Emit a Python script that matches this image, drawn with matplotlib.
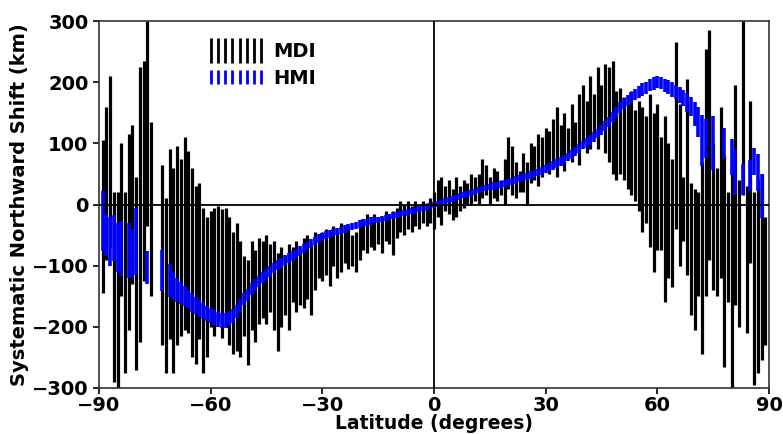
import numpy as np
import matplotlib
matplotlib.use("Agg")
import matplotlib.pyplot as plt
from matplotlib.lines import Line2D

nan = np.nan

# latitude grid, one bar per degree
lat = list(range(-89, 90))

# MDI: top and bottom of each error bar (km)
mdi_hi = [
    105, 160, 210, 20, 20, 100, 20, 115, 130, 45,        # -89 .. -80
    225, 235, 300, 135, nan, nan, 65, 10, 90, 60,       # -79 .. -70
    95, 75, 110, 87, 60, 30, 35, -5, -20, -10,          # -69 .. -60
    -5, -3, -8, -5, -20, -45, -30, -60, -85, -90,       # -59 .. -50
    -60, -75, -55, -60, -50, -65, -60, -80, -70, -85,   # -49 .. -40
    -65, -70, -60, -75, -55, -50, -65, -45, -50, -45,   # -39 .. -30
    -40, -50, -35, -45, -30, -40, -35, -50, -45, -30,   # -29 .. -20
    -25, -15, -20, -15, -20, -20, -10, -15, -10, -5,    # -19 .. -10
    5, 0, 5, -2, 5, 0, 5, 3, 10, 20,                    # -9 .. 0
    40, 45, 30, 40, 25, 45, 30, 40, 35, 50,             # 1 .. 10
    45, 50, 75, 65, 45, 60, 55, 40, 75, 110,            # 11 .. 20
    95, 70, 55, 85, 70, 100, 95, 115, 110, 125,         # 21 .. 30
    120, 140, 160, 130, 150, 125, 165, 135, 180, 195,   # 31 .. 40
    170, 210, 180, 225, 195, 230, 225, 235, 185, 190,   # 41 .. 50
    175, 165, 185, 155, 170, 160, 145, 180, 150, 165,   # 51 .. 60
    110, 145, 100, 75, 265, 165, 45, 205, 35, 25,       # 61 .. 70
    20, 70, 255, 285, 100, 60, 160, 80, 20, 60,         # 71 .. 80
    195, 40, 300, 30, 170, 20, 40, 50, -20,             # 81 .. 89
]
mdi_lo = [
    -145, -90, -70, -290, -300, -150, -275, -205, -130, -270,   # -89 .. -80
    -225, -125, -35, -150, nan, nan, -230, -275, -220, -275,    # -79 .. -70
    -230, -215, -205, -210, -250, -260, -220, -275, -250, -200, # -69 .. -60
    -215, -190, -218, -200, -230, -245, -240, -250, -215, -262, # -59 .. -50
    -205, -225, -195, -185, -195, -175, -205, -240, -200, -180, # -49 .. -40
    -205, -160, -175, -165, -170, -155, -180, -140, -120, -125, # -39 .. -30
    -115, -133, -100, -120, -110, -95, -105, -100, -110, -90,   # -29 .. -20
    -75, -80, -70, -75, -65, -80, -60, -65, -82, -55,           # -19 .. -10
    -45, -50, -40, -45, -35, -40, -30, -35, -30, -40,           # -9 .. 0
    -20, -34, -10, -15, -25, -20, -10, -5, 0, 0,                # 1 .. 10
    5, 0, 10, 15, 0, 10, 5, 15, 0, 25,                          # 11 .. 20
    15, 10, 20, 20, 0, 35, 40, 30, 45, 60,                      # 21 .. 30
    50, 60, 45, 65, 55, 80, 70, 85, 65, 100,                    # 31 .. 40
    85, 90, 110, 90, 120, 85, 70, 50, 40, 50,                   # 41 .. 50
    40, 25, 15, 5, -10, -45, -30, -70, -110, -75,               # 51 .. 60
    -75, -160, -120, -135, -40, -100, -60, -115, -180, -205,    # 61 .. 70
    -150, -245, -150, -90, -140, -150, -120, -265, -160, -300,  # 71 .. 80
    -165, -200, 15, -210, -95, -295, -275, -255, -230,          # 81 .. 89
]

# HMI: shift and half-length of each error bar (km)
hmi_shift = [
    -27, -50, -60, -55, -70, -72, nan, -75, -80, -60,           # -89 .. -80
    nan, nan, -103, nan, nan, nan, -108, nan, -125, -133,       # -79 .. -70
    -140, -145, -150, -155, -160, -165, -170, -174, -178, -182, # -69 .. -60
    -185, -188, -190, -190, -187, -182, -175, -165, -155, -148, # -59 .. -50
    -138, -132, -126, -120, -114, -109, -104, -99, -95, -91,    # -49 .. -40
    -87, -84, -80, -76, -72, -68, -64, -60, -56, -53,           # -39 .. -30
    -50, -48, -46, -44, -42, -40, -38, -36, -34, -32,           # -29 .. -20
    -30, -29, -27, -26, -25, -23, -22, -20, -18, -17,           # -19 .. -10
    -16, -14, -13, -11, -10, -8, -6, -5, -3, -1,                # -9 .. 0
    1, 3, 5, 7, 9, 11, 13, 15, 17, 19,                          # 1 .. 10
    21, 23, 25, 27, 28, 30, 31, 33, 34, 36,                     # 11 .. 20
    38, 40, 42, 44, 46, 48, 50, 52, 55, 58,                     # 21 .. 30
    61, 64, 67, 70, 74, 78, 82, 87, 92, 97,                     # 31 .. 40
    101, 106, 111, 116, 122, 128, 135, 143, 151, 158,           # 41 .. 50
    165, 170, 175, 180, 184, 188, 191, 195, 198, 200,           # 51 .. 60
    199, 195, 192, 188, 184, 179, 174, 167, 160, 148,           # 61 .. 70
    135, 105, 108, nan, 101, nan, nan, 100, nan, 78,            # 71 .. 80
    53, nan, 41, nan, 47, 71, 52, 14, nan,                      # 81 .. 89
]
hmi_err = [
    49, 35, 40, 38, 40, 45, nan, 45, 40, 55,                    # -89 .. -80
    nan, nan, 27, nan, nan, nan, 34, nan, 27, 22,               # -79 .. -70
    20, 18, 16, 15, 15, 14, 14, 13, 12, 12,                     # -69 .. -60
    12, 12, 12, 12, 12, 11, 11, 11, 10, 10,                     # -59 .. -50
    10, 10, 9, 9, 9, 9, 8, 8, 8, 8,                             # -49 .. -40
    8, 8, 8, 8, 7, 7, 7, 7, 7, 7,                               # -39 .. -30
    7, 6, 6, 6, 6, 6, 6, 6, 6, 6,                               # -29 .. -20
    6, 6, 6, 5, 5, 5, 5, 5, 5, 5,                               # -19 .. -10
    5, 5, 5, 5, 5, 5, 5, 5, 5, 5,                               # -9 .. 0
    5, 5, 5, 5, 5, 5, 5, 5, 5, 5,                               # 1 .. 10
    5, 5, 5, 5, 5, 6, 6, 6, 6, 6,                               # 11 .. 20
    6, 6, 6, 6, 6, 6, 6, 6, 6, 6,                               # 21 .. 30
    7, 7, 7, 7, 7, 7, 7, 7, 7, 7,                               # 31 .. 40
    8, 8, 8, 8, 8, 8, 8, 8, 9, 9,                               # 41 .. 50
    9, 9, 9, 9, 10, 10, 10, 10, 10, 10,                         # 51 .. 60
    10, 11, 11, 12, 12, 13, 13, 15, 15, 20,                     # 61 .. 70
    25, 42, 32, nan, 44, nan, nan, 25, nan, 29,                 # 71 .. 80
    37, nan, 25, nan, 25, 22, 30, 36, nan,                      # 81 .. 89
]

mdi_hi = np.array(mdi_hi, dtype=float)
mdi_lo = np.array(mdi_lo, dtype=float)
mdi_shift = (mdi_hi + mdi_lo) / 2
mdi_err = (mdi_hi - mdi_lo) / 2

plt.rcParams['font.family'] = 'DejaVu Sans'
plt.rcParams['font.weight'] = 'bold'

fig = plt.figure(figsize=(7.83, 4.34), dpi=100)
ax = fig.add_axes([0.1264, 0.106, 0.8557, 0.8456])

ax.errorbar(lat, mdi_shift, yerr=mdi_err, fmt='none', ecolor='black',
            elinewidth=2.3, capsize=0, zorder=2)
ax.errorbar(lat, hmi_shift, yerr=hmi_err, fmt='none', ecolor='#0000ff',
            elinewidth=2.6, capsize=0, zorder=3)

ax.axhline(0, color='black', lw=1.3, zorder=4)
ax.axvline(0, color='black', lw=1.3, zorder=4)

ax.set_xlim(-90, 90)
ax.set_ylim(-300, 300)
ax.set_xticks([-90, -60, -30, 0, 30, 60, 90])
ax.set_yticks([-300, -200, -100, 0, 100, 200, 300])
ax.tick_params(labelsize=14, width=1.2, length=4)
ax.tick_params(axis='x', pad=2)
for s in ax.spines.values():
    s.set_linewidth(1.2)
    s.set_color('#333333')

ax.set_xlabel('Latitude (degrees)', fontsize=13.5, fontweight='bold', labelpad=-1)
ax.set_ylabel('Systematic Northward Shift (km)', fontsize=14, fontweight='bold', labelpad=2)

h_mdi = Line2D([], [], color='black', marker='|', linestyle='None',
               markersize=18, markeredgewidth=2.0)
h_hmi = Line2D([], [], color='#0000ff', marker='|', linestyle='None',
               markersize=10, markeredgewidth=2.0)
ax.legend([h_mdi, h_hmi], ['MDI', 'HMI'], loc='upper left',
          bbox_to_anchor=(0.132, 0.99), frameon=False, numpoints=8,
          handlelength=3.2, handletextpad=0.3, labelspacing=0.4,
          prop={'weight': 'bold', 'size': 14})

fig.savefig('out.png', dpi=100)
